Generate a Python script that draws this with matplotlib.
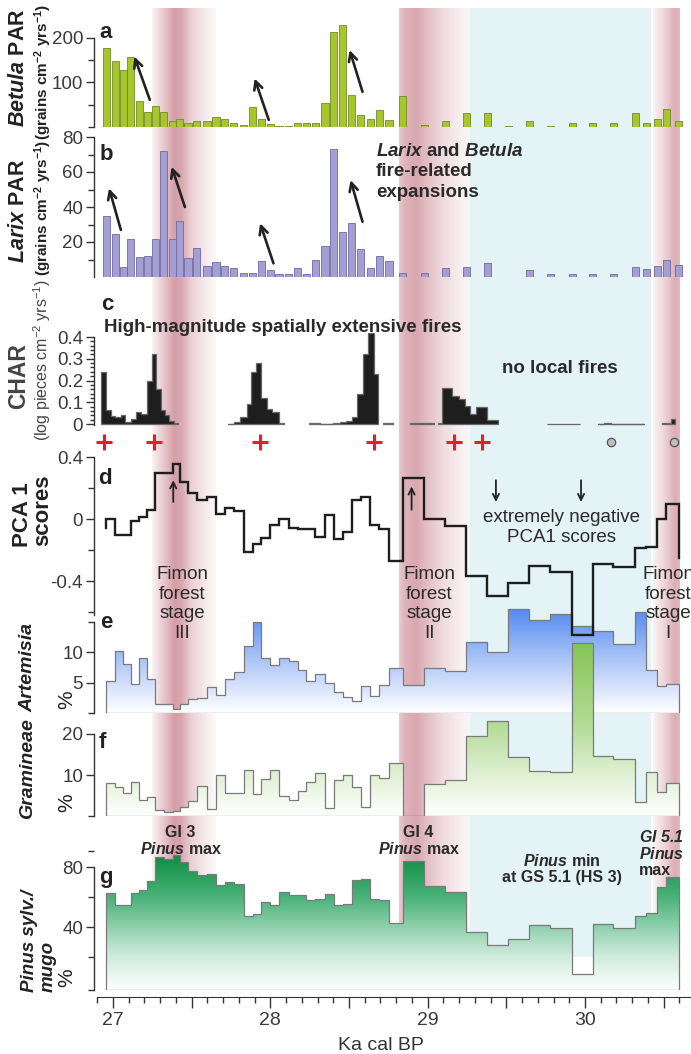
import numpy as np
import matplotlib
matplotlib.use("Agg")
import matplotlib.pyplot as plt
from matplotlib.colors import LinearSegmentedColormap, to_rgb
from matplotlib.patches import Polygon
from matplotlib.ticker import MultipleLocator, FixedLocator, FuncFormatter

plt.rcParams['font.family'] = ['Liberation Sans', 'DejaVu Sans']
plt.rcParams['axes.unicode_minus'] = False
plt.rcParams['mathtext.fontset'] = 'custom'
plt.rcParams['mathtext.rm'] = 'Liberation Sans'
plt.rcParams['mathtext.it'] = 'Liberation Sans:italic'
plt.rcParams['mathtext.bf'] = 'Liberation Sans:bold'
plt.rcParams['mathtext.bfit'] = 'Liberation Sans:italic:bold'

W, H = 691, 1054
TXT = '#2a2a2a'

# sample ages (ka cal BP); step series use them as bin edges
ages = [26.958, 27.014, 27.065, 27.112, 27.168, 27.219, 27.269, 27.323, 27.379, 27.424,
        27.477, 27.533, 27.598, 27.654, 27.710, 27.766, 27.831, 27.887, 27.943, 27.999,
        28.055, 28.117, 28.173, 28.229, 28.285, 28.347, 28.403, 28.459, 28.516, 28.575,
        28.636, 28.692, 28.754, 28.841, 28.979, 29.113, 29.245, 29.380, 29.512, 29.647,
        29.779, 29.919, 30.048, 30.180, 30.320, 30.391, 30.461, 30.517, 30.595]

betula = [177, 148, 128, 158, 58, 34, 47, 34, 13, 17, 9, 13, 14, 23, 19, 8, 5, 45, 17, 6,
          3, 3, 10, 8, 8, 53, 213, 230, 72, 28, 17, 38, 15, 69, 4, 13, 32, 32, 3, 13,
          3, 8, 10, 8, 31, 8, 19, 40, 14]

larix = [35, 24.5, 5.7, 21.5, 11.7, 12.1, 21.7, 72, 21.7, 31.8, 10.9, 16.8, 6.3, 8.8, 6.1,
         5.1, 2.5, 2.5, 9, 4, 1.5, 1.5, 5, 2, 10, 18, 73, 26, 31, 16, 5, 12, 9,
         2.5, 2.5, 5, 6, 8, 0, 3.8, 1.5, 1.5, 1.5, 1.5, 5.5, 4.5, 6.5, 9.5, 7]

pca1 = [0.0, -0.10, -0.10, -0.01, 0.01, 0.06, 0.30, 0.30, 0.355, 0.24, 0.17, 0.125, 0.14,
        0.035, 0.07, 0.05, -0.215, -0.16, -0.12, -0.04, 0.0, -0.06, -0.065, -0.065, -0.115,
        0.025, -0.13, -0.085, 0.125, 0.14, -0.04, -0.065, -0.27, 0.263, 0.0, -0.045, -0.37,
        -0.495, -0.41, -0.30, -0.34, -0.75, -0.29, -0.31, -0.19, -0.18, 0.0, 0.095]
pca1_start, pca1_end = -0.06, -0.25

artemisia = [5.2, 10.1, 8.1, 4.8, 9.0, 5.6, 1.5, 1.5, 0.7, 1.5, 2.3, 2.5, 4.2, 3.0, 5.5, 6.7,
             11.0, 14.9, 9.0, 7.8, 9.0, 8.5, 7.1, 5.2, 6.4, 4.9, 3.4, 2.6, 2.0, 4.5, 2.8, 4.6,
             7.3, 4.6, 7.4, 6.9, 11.7, 10.0, 17.1, 15.3, 16.3, 14.2, 13.5, 11.3, 16.5, 7.1,
             4.4, 4.8]

gramineae = [8.0, 7.0, 5.7, 8.2, 3.9, 4.7, 1.4, 1.0, 1.1, 2.2, 3.6, 7.2, 1.6, 10.1, 5.7, 5.7,
             11.1, 5.4, 9.1, 11.3, 5.0, 4.0, 6.2, 8.2, 10.5, 2.0, 8.7, 10.0, 7.0, 2.2, 10.0,
             9.2, 12.9, 0.0, 7.7, 8.7, 19.4, 23.1, 14.5, 10.9, 10.8, 42.2, 14.7, 13.9, 3.4,
             10.8, 5.9, 8.1]

pinus = [62.7, 54.4, 54.9, 62.7, 64.9, 70.9, 86.4, 85.3, 88.2, 83.1, 77.6, 74.9, 75.3, 68.2,
         70.0, 68.9, 47.6, 48.7, 56.4, 54.9, 63.3, 61.6, 61.6, 58.2, 58.9, 62.0, 54.9, 55.3,
         71.6, 72.0, 58.7, 57.8, 42.7, 83.8, 67.6, 63.3, 36.7, 28.2, 32.0, 41.1, 39.3, 8.9,
         42.0, 39.3, 47.6, 49.3, 66.7, 73.3]

# charcoal accumulation, contiguous runs of samples
char_edges = [
    [26.924, 26.958, 26.986, 27.014, 27.051, 27.079, 27.112, 27.149, 27.177, 27.213, 27.247,
     27.275, 27.303, 27.331, 27.359, 27.387, 27.415],
    [27.733, 27.766, 27.808, 27.850, 27.878, 27.907, 27.940, 27.977, 28.013, 28.052, 28.089],
    [28.243, 28.313, 28.398, 28.440, 28.482, 28.516, 28.552, 28.586, 28.622, 28.656, 28.687],
    [28.715, 28.777],
    [28.889, 28.987, 29.043],
    [29.066, 29.094, 29.155, 29.198, 29.240, 29.268, 29.310, 29.380, 29.445],
    [29.759, 29.969],
    [30.082, 30.124, 30.166, 30.376],
    [30.489, 30.545, 30.573],
]
char_vals = [
    [0.24, 0.065, 0.035, 0.03, 0.04, 0.01, 0.025, 0.055, 0.045, 0.2, 0.32, 0.16, 0.065, 0.04,
     0.015, 0.005],
    [0.002, 0.01, 0.03, 0.09, 0.24, 0.28, 0.12, 0.07, 0.055, 0.003],
    [0.005, 0.002, 0.005, 0.01, 0.015, 0.03, 0.14, 0.32, 0.42, 0.23],
    [0.005],
    [0.003, 0.006],
    [0.003, 0.165, 0.13, 0.115, 0.085, 0.045, 0.08, 0.02],
    [0.001],
    [0.002, 0.004, 0.002],
    [0.005, 0.025],
]
fire_plus = [26.944, 27.261, 27.935, 28.659, 29.170, 29.346]
fire_circle = [30.166, 30.564]

# interstadial (pink) and stadial (cyan) shading
pink_x = [[27.25, 27.32, 27.39, 27.43, 27.50, 27.58, 27.655],
          [28.82, 28.86, 28.93, 29.00, 29.10, 29.20, 29.27],
          [30.43, 30.50, 30.57, 30.60]]
pink_a = [[0.1, 0.45, 0.82, 0.78, 0.4, 0.2, 0.05],
          [0.45, 0.65, 0.75, 0.55, 0.3, 0.15, 0.08],
          [0.1, 0.35, 0.7, 0.6]]
cyan_band = (29.27, 30.42)

XL = (26.9, 30.674)
L0 = 97.27 / W


def rect(top, bottom):
    return [L0, 1 - bottom / H, 1 - L0, (bottom - top) / H]


def fx(x):
    return x / W


def fy(y):
    return 1 - y / H


def step_xy(edges, vals, base):
    e = np.asarray(edges, float)
    v = np.asarray(vals, float)
    xs = np.concatenate([[e[0]], np.repeat(e, 2)[1:-1], [e[-1]]])
    ys = np.concatenate([[base], np.repeat(v, 2), [base]])
    return xs, ys


def style(ax, ylim, bounds, major, labels, minor):
    ax.set_xlim(XL)
    ax.set_ylim(*ylim)
    ax.patch.set_visible(False)
    for s in ('top', 'right', 'bottom'):
        ax.spines[s].set_visible(False)
    sp = ax.spines['left']
    sp.set_position(('outward', 2.7))
    sp.set_bounds(*bounds)
    sp.set_color('#333333')
    sp.set_linewidth(1.0)
    ax.set_xticks([])
    ax.set_yticks(major, labels)
    ax.yaxis.set_minor_locator(FixedLocator(minor))
    ax.tick_params(axis='y', which='major', length=6, width=1, color='#333333',
                   labelsize=13.5, labelcolor='#3a3a3a', pad=1.5)
    ax.tick_params(axis='y', which='minor', length=4, width=1, color='#333333')


def grad_fill(ax, edges, vals, base, cmap, vmax):
    xs, ys = step_xy(edges, vals, base)
    poly = Polygon(np.column_stack([xs, ys]), closed=True, fc='none', ec='#7a7a7a',
                   lw=0.9, zorder=3)
    ax.add_patch(poly)
    grad = np.linspace(0, 1, 256).reshape(-1, 1)
    im = ax.imshow(grad, extent=[edges[0], edges[-1], base, vmax], origin='lower',
                   aspect='auto', cmap=cmap, zorder=2, interpolation='bilinear')
    im.set_clip_path(poly)


def arrow(ax, tail, head, lw=1.9, ms=15):
    ax.annotate('', xy=head, xytext=tail, annotation_clip=False,
                arrowprops=dict(arrowstyle='->', lw=lw, color='#222222',
                                shrinkA=0, shrinkB=0, mutation_scale=ms))


fig = plt.figure(figsize=(W / 100, H / 100), dpi=100)

# background shading
axbg = fig.add_axes(rect(8, 957), zorder=0)
axbg.axis('off')
axbg.axvspan(*cyan_band, color='#e3f3f6', lw=0)
pink = np.array(to_rgb('#cc8a95'))
for px_, pa_ in zip(pink_x, pink_a):
    xx = np.linspace(px_[0], px_[-1], 300)
    aa = np.interp(xx, px_, pa_)
    img = 1 - aa[:, None] * (1 - pink[None, :])
    axbg.imshow(img[None, :, :], extent=[xx[0], xx[-1], 0, 1], aspect='auto',
                interpolation='bilinear')
axbg.set_xlim(XL)
axbg.set_ylim(0, 1)

# a: Betula
axa = fig.add_axes(rect(22.4, 127), zorder=1)
axa.bar(ages, betula, width=0.046, color='#a6c62b', edgecolor='#718a2e', linewidth=0.6)
style(axa, (0, 235), (0, 200), [100, 200], ['100', '200'], [0, 50, 150])
arrow(axa, (27.234, 61), (27.136, 158))
arrow(axa, (27.99, 16), (27.90, 109))
arrow(axa, (28.586, 79), (28.504, 173))

# b: Larix
axb = fig.add_axes(rect(137, 277), zorder=1)
axb.bar(ages, larix, width=0.046, color='#a39fd2', edgecolor='#6f6aa0', linewidth=0.6)
style(axb, (0, 80), (0, 80), [20, 40, 60, 80], ['20', '40', '60', '80'], [10, 30, 50, 70])
arrow(axb, (27.05, 26.9), (26.975, 50.7))
arrow(axb, (27.457, 40), (27.373, 63))
arrow(axb, (28.02, 7.8), (27.935, 30.7))
arrow(axb, (28.586, 31.6), (28.51, 55.4))
axb.text(28.672, 60.0, r'$\mathbfit{Larix}$ and $\mathbfit{Betula}$' + '\nfire-related\nexpansions',
         ha='left', va='center', fontsize=13.5, fontweight='bold', color=TXT, linespacing=1.25)

# c: charcoal
axc = fig.add_axes(rect(330.5, 425.1), zorder=1)
for ce, cv in zip(char_edges, char_vals):
    xs, ys = step_xy(ce, cv, 0)
    axc.fill(xs, ys, fc='#1e1e1e', ec='#666666', lw=0.9, clip_on=False)
style(axc, (-0.005, 0.43), (-0.005, 0.4), [0, 0.1, 0.2, 0.3, 0.4],
      ['0', '0.1', '0.2', '0.3', '0.4'], list(np.arange(0, 0.401, 0.02)))
axc.tick_params(axis='y', which='minor', length=3)
axc.plot(fire_plus, [-0.083] * len(fire_plus), '+', color='#ee1c1c', ms=11, mew=2.2,
         clip_on=False)
axc.plot(fire_circle, [-0.083] * len(fire_circle), 'o', mfc='#bdbdbd', mec='#555555',
         ms=6, mew=0.9, clip_on=False)
axc.text(26.94, 0.443, 'High-magnitude spatially extensive fires', ha='left', va='center',
         fontsize=13.5, fontweight='bold', color=TXT)
axc.text(29.84, 0.257, 'no local fires', ha='center', va='center', fontsize=13.5,
         fontweight='bold', color=TXT)

# e: Artemisia
axe = fig.add_axes(rect(603.2, 713), zorder=2)
cmap_e = LinearSegmentedColormap.from_list('e', ['#ffffff', '#a9c3f7', '#4a83ee'])
grad_fill(axe, ages, artemisia, 0, cmap_e, 18)
style(axe, (0, 18), (0, 15), [5, 10], ['5', '10'], [0, 15])

# f: Gramineae
axf = fig.add_axes(rect(635.6, 816), zorder=3)
cmap_f = LinearSegmentedColormap.from_list(
    'f', [(0, '#ffffff'), (0.25, '#dcefcf'), (0.5, '#b4dc97'), (1, '#82c24f')])
grad_fill(axf, ages, gramineae, 0, cmap_f, 44)
style(axf, (0, 44), (0, 20), [10, 20], ['10', '20'], [0])

# g: Pinus
axg = fig.add_axes(rect(844.5, 990), zorder=2)
cmap_g = LinearSegmentedColormap.from_list(
    'g', [(0, '#ffffff'), (0.25, '#cdeadb'), (0.45, '#8fd0ab'), (0.65, '#4cb37b'),
          (1, '#04893a')])
grad_fill(axg, ages, pinus, -2, cmap_g, 92)
style(axg, (-2, 95), (-2, 80), [40, 80], ['40', '80'], [-2, 20, 60, 91])
axg.spines['bottom'].set_visible(True)
axg.spines['bottom'].set_position(('outward', 5))
axg.spines['bottom'].set_color('#333333')
axg.xaxis.set_major_locator(MultipleLocator(0.5))
axg.xaxis.set_minor_locator(MultipleLocator(0.1))
axg.xaxis.set_major_formatter(
    FuncFormatter(lambda v, p: f'{v:.0f}' if abs(v - round(v)) < 1e-6 else ''))
axg.tick_params(axis='x', which='major', length=8, width=1, color='#333333',
                labelsize=14, labelcolor='#3a3a3a', pad=3)
axg.tick_params(axis='x', which='minor', length=4.5, width=1, color='#333333')

# d: PCA1 (drawn above e/f)
axd = fig.add_axes(rect(457, 638.4), zorder=5)
xs, ys = step_xy(ages, pca1, 0)
ys[0], ys[-1] = pca1_start, pca1_end
axd.plot(xs, ys, color='#1e1e1e', lw=1.7, clip_on=False, solid_joinstyle='miter')
style(axd, (-0.77, 0.4), (-0.62, 0.4), [-0.4, 0, 0.4], ['-0.4', '0', '0.4'],
      [-0.6, -0.2, 0.2])
arrow(axd, (27.383, 0.11), (27.383, 0.25), lw=1.3, ms=11)
arrow(axd, (28.898, 0.06), (28.898, 0.21), lw=1.3, ms=11)
arrow(axd, (29.434, 0.25), (29.434, 0.11), lw=1.3, ms=11)
arrow(axd, (29.975, 0.25), (29.975, 0.11), lw=1.3, ms=11)
axd.text(29.85, -0.055, 'extremely negative\nPCA1 scores', ha='center', va='center',
         fontsize=13.5, color=TXT, linespacing=1.2)
for xst, lab in [(27.44, 'III'), (29.01, 'II'), (30.53, 'I')]:
    axd.text(xst, -0.548, 'Fimon\nforest\nstage\n' + lab, ha='center', va='center',
             fontsize=13.5, color=TXT, linespacing=1.2, clip_on=False)

# g annotations (figure pixels)
fig.text(fx(180.6), fy(841), 'GI 3\n' + r'$\mathbfit{Pinus}$ max', ha='center', va='center',
         fontsize=11.5, fontweight='bold', color=TXT, linespacing=1.05)
fig.text(fx(418.5), fy(841), 'GI 4\n' + r'$\mathbfit{Pinus}$ max', ha='center', va='center',
         fontsize=11.5, fontweight='bold', color=TXT, linespacing=1.05)
fig.text(fx(561.7), fy(869), r'$\mathbfit{Pinus}$ min' + '\nat GS 5.1 (HS 3)', ha='center',
         va='center', fontsize=11.5, fontweight='bold', color=TXT, linespacing=1.05)
fig.text(fx(639), fy(853.5), r'$\mathbfit{GI\ 5.1}$' + '\n' + r'$\mathbfit{Pinus}$' + '\nmax',
         ha='left', va='center', fontsize=11.5, fontweight='bold', color=TXT,
         linespacing=1.05)

# panel letters
for lt, x, y in [('a', 106, 33), ('b', 106, 155), ('c', 107, 305), ('d', 105, 479),
                 ('e', 106, 623), ('f', 102, 742), ('g', 106, 877)]:
    fig.text(fx(x), fy(y), lt, ha='center', va='center', fontsize=16, fontweight='bold',
             color='#222222')

# y-axis titles
rot = dict(rotation=90, rotation_mode='anchor', color='#222222')
bi = dict(fontstyle='italic', fontweight='bold')
fig.text(fx(19), fy(68), r'$\mathbfit{Betula}$ PAR', ha='center', va='center',
         fontsize=15.5, fontweight='bold', **rot)
fig.text(fx(43), fy(72), r'(grains cm$^{\mathbf{-2}}$ yrs$^{\mathbf{-1}}$)', ha='center',
         va='center', fontsize=11, fontweight='bold', **rot)
fig.text(fx(19), fy(211), r'$\mathbfit{Larix}$ PAR', ha='center', va='center',
         fontsize=15.5, fontweight='bold', **rot)
fig.text(fx(43), fy(208), r'(grains cm$^{\mathbf{-2}}$ yrs$^{\mathbf{-1}}$)', ha='center',
         va='center', fontsize=11, fontweight='bold', **rot)
fig.text(fx(19), fy(376), 'CHAR', ha='center', va='center', fontsize=16.5,
         fontweight='bold', rotation=90, rotation_mode='anchor', color='#444444')
fig.text(fx(42), fy(360), r'(log pieces cm$^{-2}$ yrs$^{-1}$)', ha='center', va='center',
         fontsize=11.5, rotation=90, rotation_mode='anchor', color='#444444')
fig.text(fx(23), fy(515), 'PCA 1', ha='center', va='center', fontsize=16,
         fontweight='bold', **rot)
fig.text(fx(43), fy(510), 'scores', ha='center', va='center', fontsize=16,
         fontweight='bold', **rot)
fig.text(fx(28), fy(667), 'Artemisia', ha='center', va='center', fontsize=14, **bi, **rot)
fig.text(fx(28), fy(769), 'Gramineae', ha='center', va='center', fontsize=14, **bi, **rot)
fig.text(fx(29), fy(992), 'Pinus sylv./', ha='left', va='center', fontsize=13.5,
         **bi, **rot)
fig.text(fx(48), fy(992), 'mugo', ha='left', va='center', fontsize=13.5, **bi, **rot)
for yy in (700, 803, 978):
    fig.text(fx(67), fy(yy), '%', ha='center', va='center', fontsize=15, **rot)

fig.text(fx(381), fy(1046), 'Ka cal BP', ha='center', va='center', fontsize=14,
         color='#333333')

fig.savefig('out.png', dpi=100)
